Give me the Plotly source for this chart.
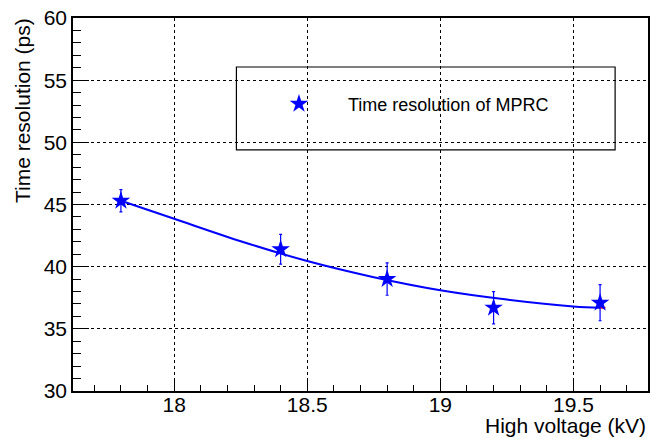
import plotly.graph_objects as go

# Data
hv = [17.8, 18.4, 18.8, 19.2, 19.6]
res = [45.3, 41.4, 39.0, 36.7, 37.1]
res_err = [0.9, 1.2, 1.3, 1.3, 1.45]

# Fit curve
fit_x = [17.8, 18.0, 18.25, 18.5, 18.75, 19.0, 19.25, 19.5, 19.6]
fit_y = [45.3, 43.85, 42.05, 40.45, 39.15, 38.1, 37.35, 36.8, 36.7]
# small red tail of the fit function visible at the right end
tail_x = [19.595, 19.62]
tail_y = [36.7, 36.7]

legend_label = "Time resolution of MPRC"
x_title = "High voltage (kV)"
y_title = "Time resolution (ps)"

BLUE = "#0000ff"
FONT = "Liberation Sans, Arial, Helvetica, sans-serif"

fig = go.Figure()

fig.add_trace(go.Scatter(
    x=tail_x, y=tail_y, mode="lines", line=dict(color="red", width=2),
    showlegend=False, hoverinfo="skip"))

fig.add_trace(go.Scatter(
    x=fit_x, y=fit_y, mode="lines", line=dict(color=BLUE, width=2, shape="spline"),
    showlegend=False, hoverinfo="skip"))

fig.add_trace(go.Scatter(
    x=hv, y=res, mode="markers",
    marker=dict(symbol="star", size=14, color=BLUE, line=dict(width=0)),
    error_y=dict(type="data", array=res_err, color=BLUE, thickness=1.2, width=1.5),
    showlegend=False))

# legend marker on an overlay axis in [0,1]
fig.add_trace(go.Scatter(
    x=[0.393], y=[0.77], mode="markers", xaxis="x2", yaxis="y2",
    marker=dict(symbol="star", size=14, color=BLUE), showlegend=False, hoverinfo="skip"))

fig.update_layout(
    width=651, height=439,
    margin=dict(l=73, r=1, t=18, b=48),
    paper_bgcolor="white", plot_bgcolor="white",
    font=dict(family=FONT, color="black", size=21),
    xaxis=dict(
        range=[17.62, 19.78], tickvals=[18, 18.5, 19, 19.5],
        ticktext=["18", "18.5", "19", "19.5"],
        ticks="inside", ticklen=12, tickwidth=1, tickcolor="black",
        minor=dict(dtick=0.1, tick0=17.6, ticks="inside", ticklen=6, tickcolor="black", showgrid=False),
        showgrid=True, gridcolor="black", griddash="dot", gridwidth=1,
        showline=True, linecolor="black", linewidth=1.5, mirror=True,
        zeroline=False, tickfont=dict(size=21), ticklabelstandoff=-6, fixedrange=True),
    yaxis=dict(
        range=[30, 60], tickvals=[30, 35, 40, 45, 50, 55, 60],
        ticks="inside", ticklen=16, tickwidth=1, tickcolor="black",
        minor=dict(dtick=1, ticks="inside", ticklen=8, tickcolor="black", showgrid=False),
        showgrid=True, gridcolor="black", griddash="dot", gridwidth=1,
        showline=True, linecolor="black", linewidth=1.5, mirror=True,
        zeroline=False, tickfont=dict(size=21), fixedrange=True),
    xaxis2=dict(range=[0, 1], overlaying="x", visible=False, fixedrange=True),
    yaxis2=dict(range=[0, 1], overlaying="y", visible=False, fixedrange=True),
    shapes=[dict(type="rect", xref="paper", yref="paper",
                 x0=0.2842, x1=0.9428, y0=0.6464, y1=0.8686,
                 line=dict(color="black", width=1.2), fillcolor="white", layer="between")],
    annotations=[
        dict(text=legend_label, xref="paper", yref="paper", x=0.475, y=0.767,
             xanchor="left", yanchor="middle", showarrow=False, font=dict(size=18)),
        dict(text=x_title, xref="paper", yref="paper", x=1.0, y=-0.1287,
             xanchor="right", yanchor="bottom", showarrow=False, font=dict(size=21)),
        dict(text=y_title, xref="paper", yref="paper", x=-0.088, y=1.005,
             xanchor="center", yanchor="top", textangle=-90, showarrow=False, font=dict(size=21)),
    ],
)

fig.write_html("out.html", config={"displayModeBar": False},
               post_script="document.body.style.margin='0';document.body.style.padding='0';")
